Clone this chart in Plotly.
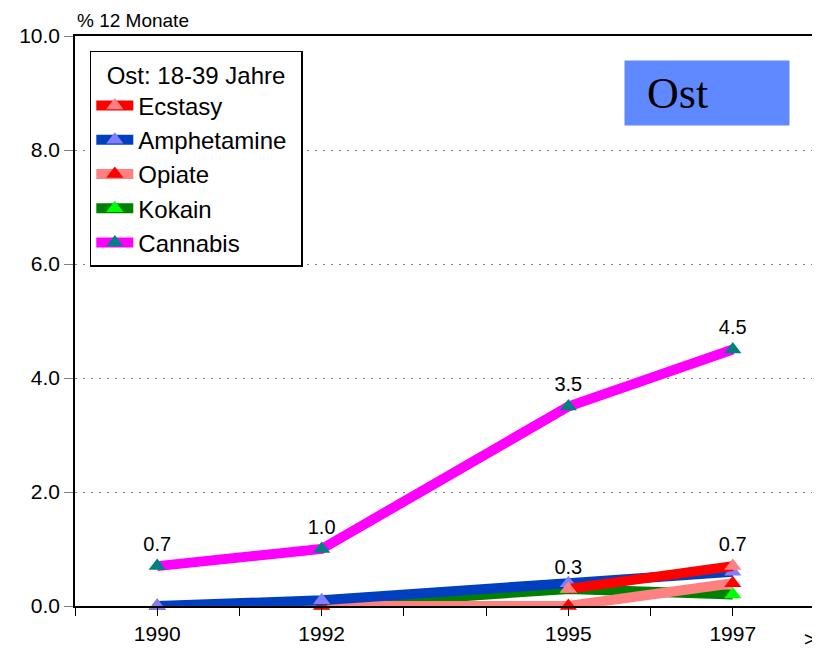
import plotly.graph_objects as go

years = [1990, 1992, 1995, 1997]
ecstasy = [None, None, 0.3, 0.7]
amphetamine = [0.0, 0.1, 0.4, 0.6]
opiate = [0.0, 0.0, 0.0, 0.4]
kokain = [0.0, 0.0, 0.3, 0.2]
cannabis = [0.7, 1.0, 3.5, 4.5]

ecstasy_text = ["", "", "0.3", "0.7"]
cannabis_text = ["0.7", "1.0", "3.5", "4.5"]

tick_years = list(range(1989, 1999))
tick_labels = ["" if y not in years else str(y) for y in tick_years]
y_ticks = [0, 2, 4, 6, 8, 10]
y_labels = ["0.0", "2.0", "4.0", "6.0", "8.0", "10.0"]

FONT = "Arial, Liberation Sans, sans-serif"

series = [
    # name, values, line colour, marker colour, legendrank, text
    ("Kokain", kokain, "#008000", "#00FF00", 4, None),
    ("Opiate", opiate, "#FF8080", "#FF0000", 3, None),
    ("Amphetamine", amphetamine, "#0040C0", "#8080FF", 2, None),
    ("Ecstasy", ecstasy, "#FF0000", "#FF8080", 1, ecstasy_text),
    ("Cannabis", cannabis, "#FF00FF", "#008080", 5, cannabis_text),
]

fig = go.Figure()
for name, vals, lc, mc, rank, txt in series:
    fig.add_trace(go.Scatter(
        x=years, y=vals, name=name,
        mode="lines+markers+text" if txt else "lines+markers",
        text=txt, textposition="top center",
        textfont=dict(family=FONT, size=20, color="black"),
        line=dict(color=lc, width=10),
        marker=dict(symbol="triangle-up", size=15, color=mc, line=dict(width=0)),
        legendrank=rank, legendgroup=name,
        cliponaxis=False,
    ))

fig.update_layout(
    width=812, height=642,
    margin=dict(l=67, r=3, t=28, b=44),
    plot_bgcolor="white", paper_bgcolor="white",
    font=dict(family=FONT, size=20, color="black"),
    showlegend=True,
    legend=dict(
        title=dict(text="  Ost: 18-39 Jahre  ", font=dict(family=FONT, size=24)),
        x=0.02, y=0.974, xanchor="left", yanchor="top",
        bordercolor="black", borderwidth=1.5, bgcolor="white",
        font=dict(family=FONT, size=24),
        tracegroupgap=0, itemwidth=37,
    ),
    xaxis=dict(
        range=[1989, 1998], tickvals=tick_years, ticktext=tick_labels,
        showgrid=False, zeroline=False,
        showline=True, linecolor="black", linewidth=1.5, mirror=True,
        ticks="outside", ticklen=8, tickcolor="black",
        tickfont=dict(family=FONT, size=21),
    ),
    yaxis=dict(
        range=[0, 10], tickvals=y_ticks, ticktext=y_labels,
        showgrid=True, gridcolor="#808080", griddash="2px,6px", gridwidth=1,
        zeroline=False,
        showline=True, linecolor="black", linewidth=1.5, mirror=True,
        ticks="outside", ticklen=9, tickcolor="#808080",
        tickfont=dict(family=FONT, size=21),
    ),
)

fig.add_annotation(text="% 12 Monate", xref="paper", yref="paper",
                   x=0, y=1, xanchor="left", yanchor="bottom", yshift=3,
                   showarrow=False, font=dict(family=FONT, size=19))
fig.add_annotation(text=">", xref="paper", yref="paper",
                   x=1, y=0, xanchor="right", yanchor="top", yshift=-20, xshift=3,
                   showarrow=False, font=dict(family=FONT, size=20))
fig.add_annotation(text="  Ost", xref="paper", yref="paper",
                   x=0.742, y=0.9, xanchor="left", yanchor="middle",
                   showarrow=False, bgcolor="#6089FF",
                   width=164, height=64, align="left", borderpad=0,
                   font=dict(family="Liberation Serif, Times New Roman, serif", size=44, color="black"))

fig.write_html("out.html")
